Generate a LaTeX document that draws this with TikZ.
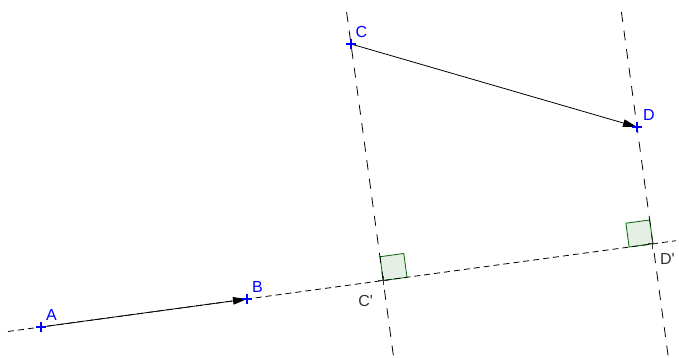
\documentclass[tikz,border=0pt]{standalone}
\usepackage{fontspec}
\newfontfamily\lblfont{Liberation Sans}
\usetikzlibrary{arrows.meta,positioning,shapes.misc}

\definecolor{ptblue}{RGB}{0,0,255}
\definecolor{imgrey}{RGB}{51,51,51}
\definecolor{angreen}{RGB}{0,100,0}
\definecolor{anfill}{RGB}{229,239,229}

\tikzset{
  pt/.style={cross out, rotate=45, draw=ptblue, line width=1.3pt, minimum size=5.8pt, inner sep=0pt},
  lbl/.style={font=\lblfont\fontsize{16}{16}\selectfont, text=ptblue, inner sep=0pt},
  imlbl/.style={lbl, text=imgrey},
  vec/.style={line width=0.8pt, -{Triangle[length=14pt, width=7.5pt]}},
  baseline/.style={line width=0.8pt, dash pattern=on 6pt off 4pt},
  perp/.style={line width=0.8pt, dash pattern=on 10pt off 8.7pt},
  rightangle/.style={draw=angreen, fill=anfill, line width=0.8pt}
}

\begin{document}
\begin{tikzpicture}[x=1pt, y=-1pt]
\useasboundingbox (0,0) rectangle (679,358);
%
% --- Points of the two vectors ---
\coordinate (A) at (41,327);
\coordinate (B) at (247,299);
\coordinate (C) at (351,44);
\coordinate (D) at (637,127);
% --- Projections of C and D onto (AB) ---
\coordinate (Cp) at (383.2,280.5);
\coordinate (Dp) at (652.9,243.8);
% --- Ends of the dashed lines ---
\coordinate (l1) at (8,331.5);
\coordinate (l2) at (676,240.7);
\coordinate (c1) at (346.6,12);
\coordinate (c2) at (393.7,358);
\coordinate (d1) at (621.4,12);
\coordinate (d2) at (668.4,358);
%
% --- Right angle marks ---
\draw[rightangle] (Cp) -- ++(23.8,-3.2) -- ++(-3.2,-23.8) -- ++(-23.8,3.2) -- cycle;
\draw[rightangle] (Dp) -- ++(-23.8,3.2) -- ++(-3.2,-23.8) -- ++(23.8,-3.2) -- cycle;
%
% --- Lines ---
\draw[baseline] (l1) -- (l2);
\draw[perp] (c1) -- (c2);
\draw[perp] (d1) -- (d2);
%
% --- Vectors ---
\draw[vec] (A) -- (B);
\draw[vec] (C) -- (D);
%
% --- Point marks ---
\node[pt] (mA) at (A) {};
\node[pt] (mB) at (B) {};
\node[pt] (mC) at (C) {};
\node[pt] (mD) at (D) {};
\node[pt, draw=imgrey, line width=0.9pt] (mCp) at (Cp) {};
\node[pt, draw=imgrey, line width=0.9pt] (mDp) at (Dp) {};
%
% --- Labels ---
\node[lbl, above right=6pt and 5pt of A] (lA) {A};
\node[lbl, above right=6pt and 5pt of B] (lB) {B};
\node[lbl, above right=6.5pt and 4.5pt of C] (lC) {C};
\node[lbl, above right=6.5pt and 6pt of D] (lD) {D};
\node[imlbl, below left=15pt and 10pt of Cp] (lCp) {C'};
\node[imlbl, below right=9pt and 7pt of Dp] (lDp) {D'};
%
\end{tikzpicture}
\end{document}
